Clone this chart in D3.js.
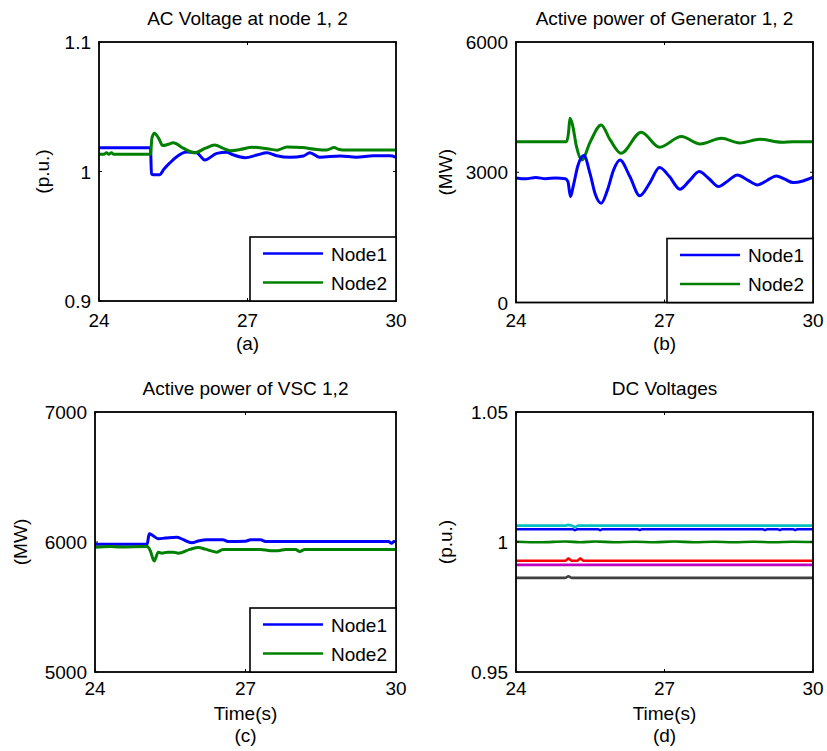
<!DOCTYPE html>
<html>
<head>
<meta charset="utf-8">
<script src="https://cdn.jsdelivr.net/npm/d3@7"></script>
<style>
  html, body { margin: 0; padding: 0; background: #fff; }
  svg { display: block; font-family: "Liberation Sans", Arial, Helvetica, sans-serif; }
</style>
</head>
<body>
<svg id="fig" width="827" height="751"></svg>
<script>
// ---- shared axis values ----
const timeTicks = [24, 27, 30];
const legendNames = ["Node1", "Node2"];

// ---- (a) AC voltage at node 1, 2 (p.u.) ----
const acYTicks = [0.9, 1, 1.1];
const acTime1 = [24, 25.04, 25.06, 25.1, 25.23, 25.3, 25.43, 25.57, 25.77, 25.97, 26.14, 26.38, 26.58, 26.7, 26.95, 27.19, 27.39, 27.59, 27.86, 28.13, 28.26, 28.46, 28.87, 29.2, 29.54, 29.88, 30];
const acNode1 = [1.0184, 1.0184, 0.998, 0.9975, 0.9975, 1.0012, 1.0066, 1.0114, 1.015, 1.0145, 1.0089, 1.014, 1.0148, 1.013, 1.0107, 1.0127, 1.0145, 1.0122, 1.011, 1.012, 1.0145, 1.011, 1.012, 1.011, 1.0122, 1.0122, 1.011];
const acTime2 = [24, 24.1, 24.15, 24.2, 24.25, 24.3, 24.35, 25.04, 25.07, 25.12, 25.2, 25.29, 25.4, 25.5, 25.7, 25.94, 26.15, 26.34, 26.5, 26.65, 26.85, 27.1, 27.4, 27.6, 27.8, 28.1, 28.4, 28.6, 28.75, 28.85, 29.0, 30];
const acNode2 = [1.0133, 1.0133, 1.0145, 1.0133, 1.0145, 1.0133, 1.0133, 1.0133, 1.026, 1.0295, 1.026, 1.020, 1.021, 1.0222, 1.018, 1.0145, 1.018, 1.0205, 1.018, 1.016, 1.017, 1.0187, 1.0175, 1.0165, 1.019, 1.0185, 1.017, 1.0166, 1.0185, 1.017, 1.0166, 1.0166];

// ---- (b) active power of generator 1, 2 (MW) ----
const genYTicks = [0, 3000, 6000];
const genTime1 = [24, 24.2, 24.4, 24.6, 24.8, 25.0, 25.05, 25.1, 25.16, 25.25, 25.37, 25.5, 25.6, 25.72, 25.85, 25.97, 26.1, 26.3, 26.5, 26.7, 26.9, 27.1, 27.31, 27.5, 27.7, 27.9, 28.09, 28.28, 28.47, 28.68, 28.88, 29.07, 29.26, 29.43, 29.6, 29.8, 30];
const genNode1 = [2870, 2850, 2880, 2850, 2870, 2850, 2780, 2440, 2700, 3150, 3383, 2950, 2500, 2288, 2600, 3050, 3284, 2900, 2456, 2750, 3111, 2900, 2610, 2800, 3015, 2850, 2670, 2800, 2938, 2820, 2709, 2810, 2916, 2840, 2762, 2800, 2886];
const genTime2 = [24, 25.02, 25.06, 25.09, 25.14, 25.22, 25.33, 25.5, 25.72, 25.9, 26.12, 26.53, 26.9, 27.34, 27.72, 28.15, 28.52, 28.93, 29.37, 29.6, 30];
const genNode2 = [3705, 3705, 3900, 4244, 4100, 3600, 3284, 3700, 4090, 3750, 3438, 3922, 3577, 3821, 3652, 3784, 3675, 3761, 3692, 3705, 3705];

// ---- (c) active power of VSC 1,2 (MW) ----
const vscYTicks = [5000, 6000, 7000];
const vscTime1 = [24, 25.04, 25.08, 25.15, 25.26, 25.4, 25.63, 25.75, 25.93, 26.08, 26.23, 26.55, 26.65, 27.0, 27.1, 27.3, 27.4, 29.85, 29.91, 29.96, 30];
const vscNode1 = [5983, 5983, 6063, 6050, 6025, 6030, 6037, 6020, 5994, 6010, 6017, 6017, 6004, 6006, 6017, 6017, 6004, 6004, 5990, 6004, 6004];
const vscTime2 = [24, 24.3, 24.5, 25.04, 25.1, 25.18, 25.26, 25.33, 25.45, 25.56, 25.66, 25.89, 26.06, 26.2, 26.43, 26.55, 27.3, 27.5, 27.65, 27.8, 28.0, 28.08, 28.18, 30];
const vscNode2 = [5960, 5965, 5962, 5965, 5935, 5853, 5922, 5914, 5922, 5922, 5914, 5943, 5958, 5945, 5922, 5943, 5943, 5933, 5933, 5943, 5943, 5927, 5943, 5943];

// ---- (d) DC voltages (p.u.) ----
const dcYTicks = [0.95, 1, 1.05];
const dcTimeC = [24, 25.0, 25.05, 25.12, 25.19, 25.26, 30];
const dcCyan = [1.0063, 1.0063, 1.0066, 1.0063, 1.0058, 1.0063, 1.0063];
const dcTimeB = [24, 25.15, 25.19, 25.23, 25.66, 25.7, 25.74, 26.46, 26.5, 26.54, 28.99, 29.03, 29.07, 29.29, 29.33, 29.37, 29.6, 29.64, 29.68, 30];
const dcBlue = [1.0049, 1.0049, 1.0045, 1.0049, 1.0049, 1.0045, 1.0049, 1.0049, 1.0046, 1.0049, 1.0049, 1.0046, 1.0049, 1.0049, 1.0046, 1.0049, 1.0049, 1.0046, 1.0049, 1.0049];
const dcTimeG = [24, 24.5, 25.0, 25.3, 25.6, 26.0, 26.4, 26.8, 27.2, 27.6, 28.0, 28.4, 28.8, 29.2, 29.6, 30];
const dcGreen = [1.0001, 0.9999, 1.0002, 0.9999, 1.0002, 0.9999, 1.0001, 0.9999, 1.0002, 0.9999, 1.0001, 0.9999, 1.0001, 0.9999, 1.0001, 1.0];
const dcTimeR = [24, 25.0, 25.06, 25.12, 25.18, 25.24, 25.3, 25.36, 30];
const dcRed = [0.9928, 0.9928, 0.9936, 0.9928, 0.9928, 0.9928, 0.9936, 0.9928, 0.9928];
const dcTimeM = [24, 30];
const dcMagenta = [0.9912, 0.9912];
const dcTimeK = [24, 25.0, 25.06, 25.12, 30];
const dcGray = [0.9862, 0.9862, 0.9868, 0.9862, 0.9862];

// ---- colours ----
const BLUE = "#0000ff", GREEN = "#008000", RED = "#ff0000", CYAN = "#00bfbf", MAGENTA = "#bf00bf", GRAY = "#404040";

const zip = (t, v) => t.map((d, i) => [d, v[i]]);

const panels = [
  { tag: "(a)", title: "AC Voltage at node 1, 2", yLabel: "(p.u.)", left: 99, right: 396, top: 42, bottom: 301,
    yDomain: [0.9, 1.1], yTicks: acYTicks, yFmt: d => d3.format("")(d), yLabelX: 49, xTickY: 326.5, tagY: 349.5, xTitle: null,
    width: 3, legend: true,
    series: [ { data: zip(acTime1, acNode1), color: BLUE }, { data: zip(acTime2, acNode2), color: GREEN } ] },
  { tag: "(b)", title: "Active power of Generator 1, 2", yLabel: "(MW)", left: 516, right: 813, top: 42, bottom: 302.5,
    yDomain: [0, 6000], yTicks: genYTicks, yFmt: d => String(d), yLabelX: 452, xTickY: 326.5, tagY: 349.5, xTitle: null,
    width: 3, legend: true,
    series: [ { data: zip(genTime2, genNode2), color: GREEN }, { data: zip(genTime1, genNode1), color: BLUE } ] },
  { tag: "(c)", title: "Active power of VSC 1,2", yLabel: "(MW)", left: 95, right: 396, top: 412, bottom: 672,
    yDomain: [5000, 7000], yTicks: vscYTicks, yFmt: d => String(d), yLabelX: 27, xTickY: 694.5, tagY: 741.5, xTitle: "Time(s)",
    width: 3, legend: true,
    series: [ { data: zip(vscTime1, vscNode1), color: BLUE }, { data: zip(vscTime2, vscNode2), color: GREEN } ] },
  { tag: "(d)", title: "DC Voltages", yLabel: "(p.u.)", left: 516, right: 813, top: 412, bottom: 672,
    yDomain: [0.95, 1.05], yTicks: dcYTicks, yFmt: d => String(d), yLabelX: 452, xTickY: 694.5, tagY: 741.5, xTitle: "Time(s)",
    width: 2.6, legend: false,
    series: [
      { data: zip(dcTimeK, dcGray), color: GRAY },
      { data: zip(dcTimeM, dcMagenta), color: MAGENTA },
      { data: zip(dcTimeR, dcRed), color: RED },
      { data: zip(dcTimeG, dcGreen), color: GREEN },
      { data: zip(dcTimeB, dcBlue), color: BLUE },
      { data: zip(dcTimeC, dcCyan), color: CYAN }
    ] }
];

const svg = d3.select("#fig");
const FONT = 19;

panels.forEach((p, idx) => {
  const x = d3.scaleLinear().domain([24, 30]).range([p.left, p.right]);
  const y = d3.scaleLinear().domain(p.yDomain).range([p.bottom, p.top]);
  const g = svg.append("g");

  const clipId = "clip" + idx;
  svg.append("clipPath").attr("id", clipId)
    .append("rect").attr("x", p.left).attr("y", p.top)
    .attr("width", p.right - p.left).attr("height", p.bottom - p.top);

  // traces
  const line = d3.line().x(d => x(d[0])).y(d => y(d[1])).curve(d3.curveMonotoneX);
  const traces = g.append("g").attr("clip-path", `url(#${clipId})`);
  p.series.forEach(s => {
    traces.append("path").datum(s.data)
      .attr("d", line).attr("fill", "none")
      .attr("stroke", s.color).attr("stroke-width", p.width)
      .attr("stroke-linejoin", "round").attr("stroke-linecap", "round");
  });

  // inward ticks on all four sides
  const tickLen = 3;
  const tk = g.append("g").attr("stroke", "#000").attr("stroke-width", 1);
  timeTicks.forEach(t => {
    tk.append("line").attr("x1", x(t)).attr("x2", x(t)).attr("y1", p.bottom).attr("y2", p.bottom - tickLen);
    tk.append("line").attr("x1", x(t)).attr("x2", x(t)).attr("y1", p.top).attr("y2", p.top + tickLen);
  });
  p.yTicks.forEach(v => {
    tk.append("line").attr("x1", p.left).attr("x2", p.left + tickLen).attr("y1", y(v)).attr("y2", y(v));
    tk.append("line").attr("x1", p.right).attr("x2", p.right - tickLen).attr("y1", y(v)).attr("y2", y(v));
  });

  // frame
  g.append("rect").attr("x", p.left).attr("y", p.top)
    .attr("width", p.right - p.left).attr("height", p.bottom - p.top)
    .attr("fill", "none").attr("stroke", "#000").attr("stroke-width", 1.8);

  // tick labels
  timeTicks.forEach(t => {
    g.append("text").attr("x", x(t)).attr("y", p.xTickY)
      .attr("text-anchor", "middle").attr("font-size", FONT).text(t);
  });
  p.yTicks.forEach(v => {
    g.append("text").attr("x", p.left - 8).attr("y", y(v) + 7)
      .attr("text-anchor", "end").attr("font-size", FONT).text(p.yFmt(v));
  });

  // title
  g.append("text").attr("x", (p.left + p.right) / 2).attr("y", p.top - 17)
    .attr("text-anchor", "middle").attr("font-size", FONT).text(p.title);

  // y-axis label
  const cy = (p.top + p.bottom) / 2;
  g.append("text").attr("transform", `translate(${p.yLabelX},${cy}) rotate(-90)`)
    .attr("text-anchor", "middle").attr("font-size", FONT).text(p.yLabel);

  // x-axis label and panel tag
  if (p.xTitle) {
    g.append("text").attr("x", (p.left + p.right) / 2).attr("y", p.tagY - 22)
      .attr("text-anchor", "middle").attr("font-size", FONT).text(p.xTitle);
  }
  g.append("text").attr("x", (p.left + p.right) / 2).attr("y", p.tagY)
    .attr("text-anchor", "middle").attr("font-size", FONT).text(p.tag);

  // legend
  if (p.legend) {
    const lw = 146, lh = 64;
    const lx = p.right - lw, ly = p.bottom - lh;
    const lg = g.append("g");
    lg.append("rect").attr("x", lx).attr("y", ly).attr("width", lw).attr("height", lh)
      .attr("fill", "#fff").attr("stroke", "#000").attr("stroke-width", 1.6);
    const colors = [BLUE, GREEN];
    legendNames.forEach((name, i) => {
      const yy = ly + 16.5 + i * 29;
      lg.append("line").attr("x1", lx + 13).attr("x2", lx + 73).attr("y1", yy).attr("y2", yy)
        .attr("stroke", colors[i]).attr("stroke-width", 2.5);
      lg.append("text").attr("x", lx + 81).attr("y", yy + 7)
        .attr("font-size", FONT).text(name);
    });
  }
});
</script>
</body>
</html>
